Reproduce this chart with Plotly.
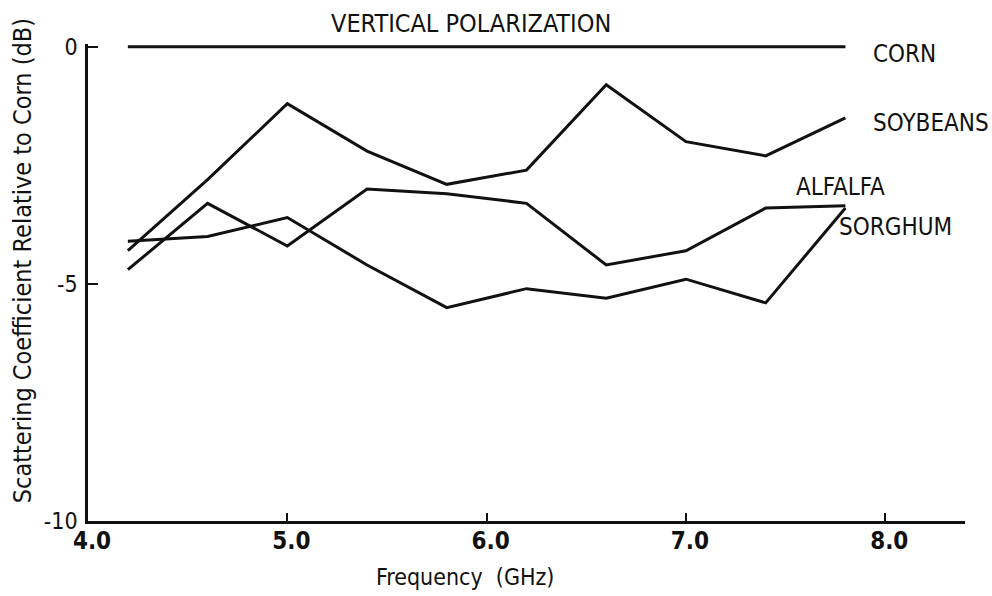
import plotly.graph_objects as go

freq = [4.2, 4.6, 5.0, 5.4, 5.8, 6.2, 6.6, 7.0, 7.4, 7.8]
corn = [0, 0, 0, 0, 0, 0, 0, 0, 0, 0]
soybeans = [-4.3, -2.8, -1.2, -2.2, -2.9, -2.6, -0.8, -2.0, -2.3, -1.5]
alfalfa = [-4.7, -3.3, -4.2, -3.0, -3.1, -3.3, -4.6, -4.3, -3.4, -3.35]
sorghum = [-4.1, -4.0, -3.6, -4.6, -5.5, -5.1, -5.3, -4.9, -5.4, -3.4]

x_ticks = [4.0, 5.0, 6.0, 7.0, 8.0]
x_ticktext = ["4.0", "5.0", "6.0", "7.0", "8.0"]
y_ticks = [-10, -5, 0]
y_ticktext = ["-10", "-5", "0"]

FONT = "Liberation Sans Narrow, DejaVu Sans Condensed, Arial Narrow, sans-serif"
INK = "#111111"

fig = go.Figure()
for name, ys in [("CORN", corn), ("SOYBEANS", soybeans), ("ALFALFA", alfalfa), ("SORGHUM", sorghum)]:
    fig.add_trace(go.Scatter(x=freq, y=ys, mode="lines", name=name,
                             line=dict(color=INK, width=3), showlegend=False))

labels = [
    ("CORN", 7.93, -0.15),
    ("SOYBEANS", 7.93, -1.6),
    ("ALFALFA", 7.54, -2.96),
    ("SORGHUM", 7.76, -3.8),
]
for txt, lx, ly in labels:
    fig.add_annotation(x=lx, y=ly, xref="x", yref="y", text=txt, showarrow=False,
                       xanchor="left", yanchor="middle",
                       font=dict(family=FONT, size=24, color=INK))

fig.add_annotation(x=0.437, y=1.044, xref="paper", yref="paper",
                   text="VERTICAL POLARIZATION", showarrow=False,
                   xanchor="center", yanchor="middle",
                   font=dict(family=FONT, size=25, color=INK))
fig.add_annotation(x=0.43, y=-0.117, xref="paper", yref="paper",
                   text="Frequency  (GHz)", showarrow=False,
                   xanchor="center", yanchor="middle",
                   font=dict(family=FONT, size=23, color=INK))
fig.add_annotation(x=-0.075, y=0.545, xref="paper", yref="paper",
                   text="Scattering Coefficient Relative to Corn (dB)", showarrow=False,
                   textangle=-90, xanchor="center", yanchor="middle",
                   font=dict(family=FONT, size=25, color=INK))

fig.update_xaxes(range=[4.0, 8.4], tickvals=x_ticks, ticktext=x_ticktext,
                 showline=True, linecolor=INK, linewidth=2.5, showgrid=False,
                 zeroline=False, ticks="inside", ticklen=8, tickwidth=2, tickcolor=INK,
                 ticklabelstandoff=-4, ticklabelshift=4,
                 tickfont=dict(family=FONT, size=24, color=INK, weight="bold"))
fig.update_yaxes(range=[-10, 0.06], tickvals=y_ticks, ticktext=y_ticktext,
                 showline=True, linecolor=INK, linewidth=2.5, showgrid=False,
                 zeroline=False, ticks="inside", ticklen=10, tickwidth=2, tickcolor=INK,
                 ticklabelstandoff=3,
                 tickfont=dict(family=FONT, size=23, color=INK))

fig.update_layout(width=992, height=596, paper_bgcolor="white", plot_bgcolor="white",
                  margin=dict(l=88, r=27, t=44, b=75), showlegend=False)

fig.write_html("out.html")
